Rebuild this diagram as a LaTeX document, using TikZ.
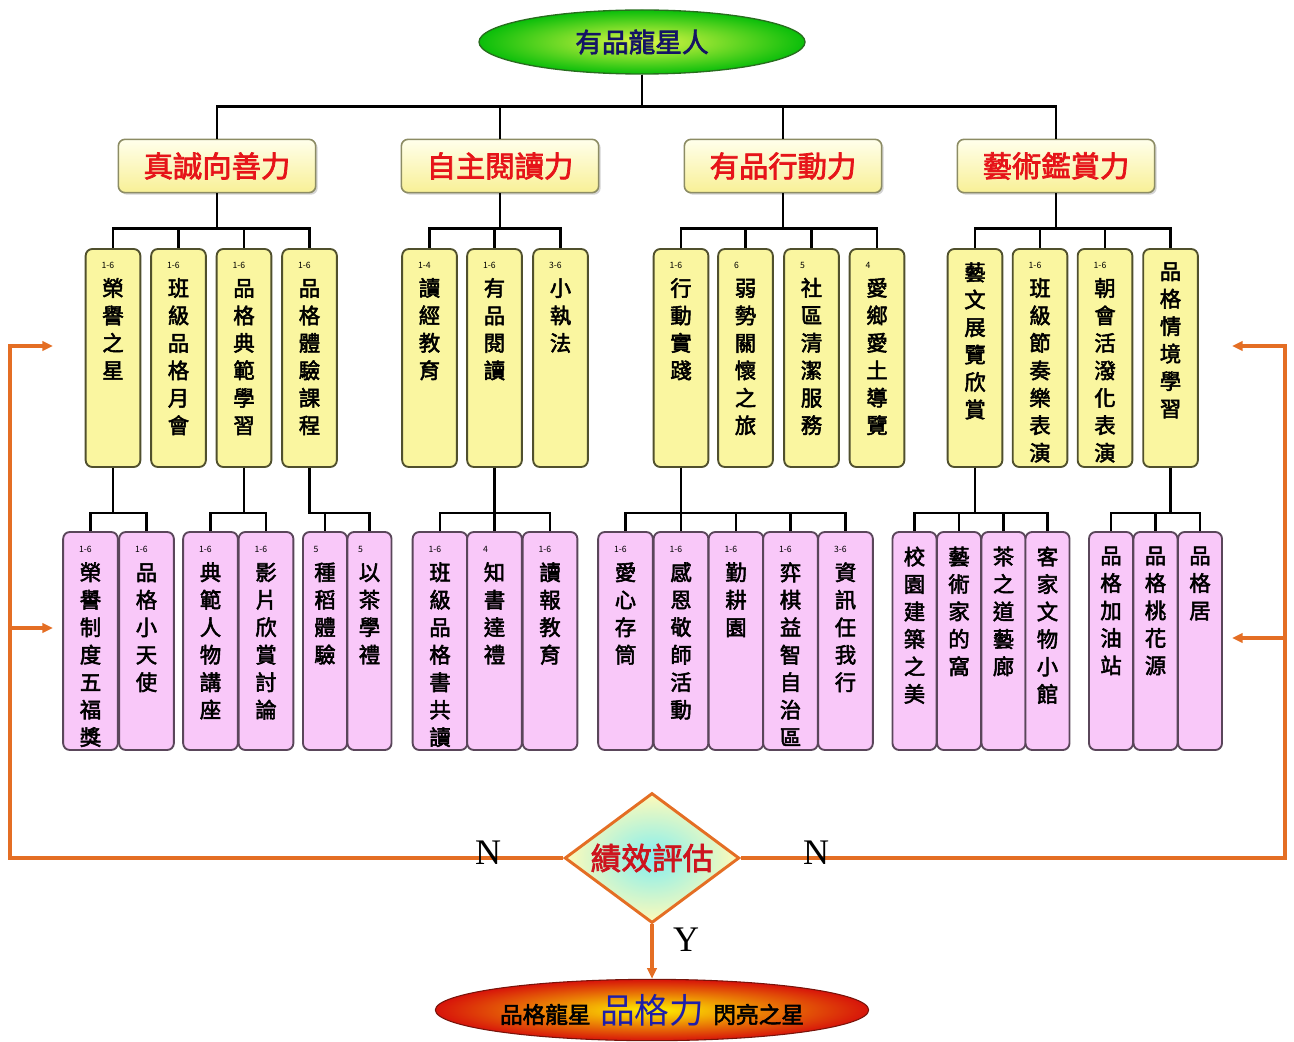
\documentclass[tikz,border=0pt]{standalone}
\usepackage{fontspec}
\usepackage{tikz}
\usetikzlibrary{shapes.geometric,arrows.meta,shadows}
\newfontfamily\cjk[AutoFakeBold=2.5]{Noto Sans CJK TC}
\newfontfamily\latn{Liberation Serif}
\newcommand\colh{147.5pt}
\newcommand\vcol[2][]{\parbox[c][\colh][t]{17pt}{%
\if\relax\detokenize{#1}\relax\else{\raggedright\mdseries\fontsize{6.5}{7}\selectfont #1\par}\fi
\centering\fontsize{16}{20.6}\selectfont #2}}

\begin{document}
\begin{tikzpicture}[x=0.75pt,y=0.75pt,yscale=-1,xscale=1,
  ln/.style={line width=2pt},
  fb/.style={draw={rgb, 255:red, 228; green, 110; blue, 36}, line width=2.7pt},
  fbarrow/.style={-{Triangle[length=8pt,width=7pt]}},
  topell/.style={ellipse, draw={rgb, 255:red, 40; green, 110; blue, 30}, line width=1pt, inner color={rgb, 255:red, 225; green, 248; blue, 70}, outer color={rgb, 255:red, 10; green, 190; blue, 10}, minimum width=244.5pt, minimum height=48pt, inner sep=0pt, font=\cjk\bfseries\fontsize{20}{20}\selectfont, text={rgb, 255:red, 20; green, 20; blue, 100}},
  cat/.style={draw={rgb, 255:red, 140; green, 140; blue, 100}, line width=1.2pt, rounded corners=5pt, top color={rgb, 255:red, 255; green, 255; blue, 235}, bottom color={rgb, 255:red, 248; green, 240; blue, 150}, drop shadow={opacity=0.35, shadow xshift=1.5pt, shadow yshift=-1.5pt}, minimum width=148pt, minimum height=40pt, font=\cjk\bfseries\fontsize{22}{22}\selectfont, text={rgb, 255:red, 230; green, 20; blue, 25}},
  ycol/.style={draw={rgb, 255:red, 80; green, 80; blue, 45}, line width=1.4pt, rounded corners=5pt, fill={rgb, 255:red, 250; green, 246; blue, 160}, minimum width=41pt, minimum height=163.5pt, inner xsep=0pt, inner ysep=10pt, font=\cjk\bfseries, execute at begin node={\def\colh{143.5pt}}},
  pcol/.style={draw={rgb, 255:red, 90; green, 70; blue, 90}, line width=1.4pt, rounded corners=5pt, fill={rgb, 255:red, 249; green, 200; blue, 249}, minimum width=41pt, minimum height=163.5pt, inner xsep=0pt, inner ysep=11pt, font=\cjk\bfseries, execute at begin node={\def\colh{141.5pt}}},
  pcoln/.style={pcol, minimum width=33pt},
  judge/.style={diamond, aspect=1.35, draw={rgb, 255:red, 228; green, 110; blue, 36}, line width=2.2pt, inner color={rgb, 255:red, 130; green, 238; blue, 240}, outer color={rgb, 255:red, 255; green, 250; blue, 185}, minimum width=131pt, minimum height=97.5pt, inner sep=0pt, font=\cjk\bfseries\fontsize{23}{23}\selectfont, text={rgb, 255:red, 205; green, 20; blue, 30}},
  botell/.style={ellipse, draw={rgb, 255:red, 120; green, 20; blue, 10}, line width=0.8pt, inner color={rgb, 255:red, 255; green, 240; blue, 0}, outer color={rgb, 255:red, 215; green, 20; blue, 10}, minimum width=325pt, minimum height=46pt, inner sep=0pt, font=\cjk\bfseries},
  lab/.style={font=\latn\fontsize{27}{27}\selectfont}]
\useasboundingbox (0,0) rectangle (1294,1041);

% Top Node
\node[topell] (top) at (642,42) {有品龍星人};

% Category Nodes
\node[cat] (c1) at (217,166) {真誠向善力};
\node[cat] (c2) at (500,166) {自主閱讀力};
\node[cat] (c3) at (783,166) {有品行動力};
\node[cat] (c4) at (1056,166) {藝術鑑賞力};

%Straight Lines
\draw[ln] (top.south) -- ++(0,32) -| (c1.north);
\draw[ln] (top.south) -- ++(0,32) -| (c2.north);
\draw[ln] (top.south) -- ++(0,32) -| (c3.north);
\draw[ln] (top.south) -- ++(0,32) -| (c4.north);

% Yellow Columns
\node[ycol] (ya) at (113,358) {\vcol[1-6]{榮\\譽\\之\\星}};
\node[ycol] (yb) at (178.5,358) {\vcol[1-6]{班\\級\\品\\格\\月\\會}};
\node[ycol] (yc) at (244,358) {\vcol[1-6]{品\\格\\典\\範\\學\\習}};
\node[ycol] (yd) at (309.5,358) {\vcol[1-6]{品\\格\\體\\驗\\課\\程}};
\node[ycol] (ye) at (429.5,358) {\vcol[1-4]{讀\\經\\教\\育}};
\node[ycol] (yf) at (494.5,358) {\vcol[1-6]{有\\品\\閱\\讀}};
\node[ycol] (yg) at (560.5,358) {\vcol[3-6]{小\\執\\法}};
\node[ycol] (yh) at (681,358) {\vcol[1-6]{行\\動\\實\\踐}};
\node[ycol] (yi) at (745.5,358) {\vcol[6]{弱\\勢\\關\\懷\\之\\旅}};
\node[ycol] (yj) at (811.5,358) {\vcol[5]{社\\區\\清\\潔\\服\\務}};
\node[ycol] (yk) at (877,358) {\vcol[4]{愛\\鄉\\愛\\土\\導\\覽}};
\node[ycol] (yl) at (975,358) {\vcol{藝\\文\\展\\覽\\欣\\賞}};
\node[ycol] (ym) at (1040,358) {\vcol[1-6]{班\\級\\節\\奏\\樂\\表\\演}};
\node[ycol] (yn) at (1105,358) {\vcol[1-6]{朝\\會\\活\\潑\\化\\表\\演}};
\node[ycol] (yo) at (1170.5,358) {\vcol{品\\格\\情\\境\\學\\習}};

%Straight Lines
\draw[ln] (c1.south) -- ++(0,35) -| (ya.north);
\draw[ln] (c1.south) -- ++(0,35) -| (yb.north);
\draw[ln] (c1.south) -- ++(0,35) -| (yc.north);
\draw[ln] (c1.south) -- ++(0,35) -| (yd.north);
\draw[ln] (c2.south) -- ++(0,35) -| (ye.north);
\draw[ln] (c2.south) -- ++(0,35) -| (yf.north);
\draw[ln] (c2.south) -- ++(0,35) -| (yg.north);
\draw[ln] (c3.south) -- ++(0,35) -| (yh.north);
\draw[ln] (c3.south) -- ++(0,35) -| (yi.north);
\draw[ln] (c3.south) -- ++(0,35) -| (yj.north);
\draw[ln] (c3.south) -- ++(0,35) -| (yk.north);
\draw[ln] (c4.south) -- ++(0,35) -| (yl.north);
\draw[ln] (c4.south) -- ++(0,35) -| (ym.north);
\draw[ln] (c4.south) -- ++(0,35) -| (yn.north);
\draw[ln] (c4.south) -- ++(0,35) -| (yo.north);

% Pink Columns
\node[pcol] (pa) at (90.5,641) {\vcol[1-6]{榮\\譽\\制\\度\\五\\福\\獎}};
\node[pcol] (pb) at (146.5,641) {\vcol[1-6]{品\\格\\小\\天\\使}};
\node[pcol] (pc) at (210.5,641) {\vcol[1-6]{典\\範\\人\\物\\講\\座}};
\node[pcol] (pd) at (266,641) {\vcol[1-6]{影\\片\\欣\\賞\\討\\論}};
\node[pcoln] (pe) at (325,641) {\vcol[5]{種\\稻\\體\\驗}};
\node[pcoln] (pf) at (369.5,641) {\vcol[5]{以\\茶\\學\\禮}};
\node[pcol] (pg) at (440,641) {\vcol[1-6]{班\\級\\品\\格\\書\\共\\讀}};
\node[pcol] (ph) at (494.5,641) {\vcol[4]{知\\書\\達\\禮}};
\node[pcol] (pi) at (550,641) {\vcol[1-6]{讀\\報\\教\\育}};
\node[pcol] (pj) at (625.5,641) {\vcol[1-6]{愛\\心\\存\\筒}};
\node[pcol] (pk) at (681,641) {\vcol[1-6]{感\\恩\\敬\\師\\活\\動}};
\node[pcol] (pl) at (736,641) {\vcol[1-6]{勤\\耕\\園}};
\node[pcol] (pm) at (790.5,641) {\vcol[1-6]{弈\\棋\\益\\智\\自\\治\\區}};
\node[pcol] (pn) at (845.5,641) {\vcol[3-6]{資\\訊\\任\\我\\行}};
\node[pcoln] (po) at (914.5,641) {\vcol{校\\園\\建\\築\\之\\美}};
\node[pcoln] (pp) at (959,641) {\vcol{藝\\術\\家\\的\\窩}};
\node[pcoln] (pq) at (1003.5,641) {\vcol{茶\\之\\道\\藝\\廊}};
\node[pcoln] (pr) at (1047.5,641) {\vcol{客\\家\\文\\物\\小\\館}};
\node[pcoln] (ps) at (1111,641) {\vcol{品\\格\\加\\油\\站}};
\node[pcoln] (pt) at (1155.5,641) {\vcol{品\\格\\桃\\花\\源}};
\node[pcoln] (pu) at (1200,641) {\vcol{品\\格\\居}};

%Straight Lines
\draw[ln] (ya.south) -- ++(0,45) -| (pa.north);
\draw[ln] (ya.south) -- ++(0,45) -| (pb.north);
\draw[ln] (yc.south) -- ++(0,45) -| (pc.north);
\draw[ln] (yc.south) -- ++(0,45) -| (pd.north);
\draw[ln] (yd.south) -- ++(0,45) -| (pe.north);
\draw[ln] (yd.south) -- ++(0,45) -| (pf.north);
\draw[ln] (yf.south) -- ++(0,45) -| (pg.north);
\draw[ln] (yf.south) -- ++(0,45) -| (ph.north);
\draw[ln] (yf.south) -- ++(0,45) -| (pi.north);
\draw[ln] (yh.south) -- ++(0,45) -| (pj.north);
\draw[ln] (yh.south) -- ++(0,45) -| (pk.north);
\draw[ln] (yh.south) -- ++(0,45) -| (pl.north);
\draw[ln] (yh.south) -- ++(0,45) -| (pm.north);
\draw[ln] (yh.south) -- ++(0,45) -| (pn.north);
\draw[ln] (yl.south) -- ++(0,45) -| (po.north);
\draw[ln] (yl.south) -- ++(0,45) -| (pp.north);
\draw[ln] (yl.south) -- ++(0,45) -| (pq.north);
\draw[ln] (yl.south) -- ++(0,45) -| (pr.north);
\draw[ln] (yo.south) -- ++(0,45) -| (ps.north);
\draw[ln] (yo.south) -- ++(0,45) -| (pt.north);
\draw[ln] (yo.south) -- ++(0,45) -| (pu.north);

% Decision Node
\node[judge] (ev) at (652,858) {績效評估};

% Result Node
\node[botell] (bot) at (652,1010) {{\fontsize{17}{17}\selectfont 品格龍星}\hspace{7pt}{\mdseries\fontsize{26}{26}\selectfont\color[RGB]{30,30,170}品格力}\hspace{7pt}{\fontsize{17}{17}\selectfont 閃亮之星}};

% Feedback Lines
\coordinate (lcor) at (10,858);
\coordinate (lin1) at (53,346);
\coordinate (lmid) at (10,628);
\coordinate (lin2) at (53,628);
\coordinate (rcor) at (1285,858);
\coordinate (rin1) at (1232,346);
\coordinate (rmid) at (1285,638);
\coordinate (rin2) at (1232,638);
\draw[fb,fbarrow] (ev.west) -- (lcor) |- (lin1);
\draw[fb,fbarrow] (lmid) -- (lin2);
\draw[fb,fbarrow] (ev.east) -- (rcor) |- (rin1);
\draw[fb,fbarrow] (rmid) -- (rin2);
\draw[fb,fbarrow] (ev.south) -- (bot.north);

% Text Node
\node[lab] (nl) at (488,853) {N};
\node[lab] (nr) at (816,853) {N};
\node[lab] (yes) at (686,940) {Y};

\end{tikzpicture}
\end{document}
